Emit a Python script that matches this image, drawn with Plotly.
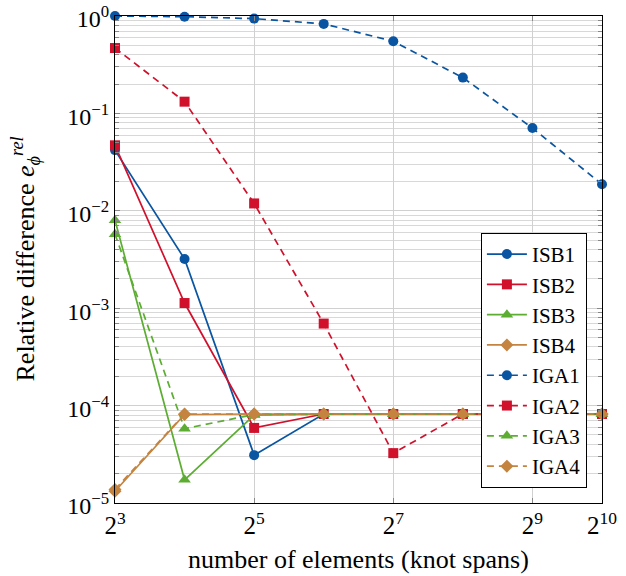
import math
import plotly.graph_objects as go

# ---- data ----
elements = [8, 16, 32, 64, 128, 256, 512, 1024]
isb1 = [4.2e-2, 3.2e-3, 3.1e-5, 8.2e-5, 8.2e-5, 8.2e-5, 8.2e-5, 8.2e-5]
isb2 = [4.7e-2, 1.13e-3, 5.9e-5, 8.2e-5, 8.2e-5, 8.2e-5, 8.2e-5, 8.2e-5]
isb3 = [8.0e-3, 1.73e-5, 8.0e-5, 8.2e-5, 8.2e-5, 8.2e-5, 8.2e-5, 8.2e-5]
isb4 = [1.32e-5, 8.1e-5, 8.2e-5, 8.2e-5, 8.2e-5, 8.2e-5, 8.2e-5, 8.2e-5]
iga1 = [1.0, 0.984, 0.94, 0.83, 0.55, 0.233, 0.0707, 0.0187]
iga2 = [0.469, 0.132, 0.0119, 6.95e-4, 3.25e-5, 8.2e-5, 8.2e-5, 8.2e-5]
iga3 = [5.75e-3, 5.8e-5, 8.1e-5, 8.2e-5, 8.2e-5, 8.2e-5, 8.2e-5, 8.2e-5]
iga4 = [1.38e-5, 8.2e-5, 8.2e-5, 8.2e-5, 8.2e-5, 8.2e-5, 8.2e-5, 8.2e-5]

series_names = ["ISB1", "ISB2", "ISB3", "ISB4", "IGA1", "IGA2", "IGA3", "IGA4"]
series_values = [isb1, isb2, isb3, isb4, iga1, iga2, iga3, iga4]

x_tickvals = [8, 32, 128, 512, 1024]
x_ticktext = ["2<sup>3</sup>", "2<sup>5</sup>", "2<sup>7</sup>", "2<sup>9</sup>", "2<sup>10</sup>"]
y_tickvals = [1e-5, 1e-4, 1e-3, 1e-2, 1e-1, 1e0]
y_ticktext = ["10<sup>−5</sup>", "10<sup>−4</sup>", "10<sup>−3</sup>", "10<sup>−2</sup>",
              "10<sup>−1</sup>", "10<sup>0</sup>"]
x_title = "number of elements (knot spans)"
y_title = "Relative difference <i>e</i><sub><i>ϕ</i></sub><sup><i>rel</i></sup>"

# ---- styles ----
colors = ["#0A55A2", "#D1102C", "#5CAD32", "#C4843F"] * 2
symbols = ["circle", "square", "triangle-up", "diamond"] * 2
sizes = [10, 10, 11, 10] * 2
dashes = ["solid"] * 4 + ["7px,5px"] * 4

FONT = "Liberation Serif, Times New Roman, serif"
ML, MR, MT, MB = 115, 24, 16, 73
W, H = 626, 576
PW, PH = W - ML - MR, H - MT - MB

fig = go.Figure()
for name, vals, c, s, sz, d in zip(series_names, series_values, colors, symbols, sizes, dashes):
    fig.add_trace(go.Scatter(
        x=elements, y=vals, name=name, mode="lines+markers",
        line=dict(color=c, width=1.7, dash=d),
        marker=dict(symbol=s, size=sz, color=c, line=dict(width=0)),
        cliponaxis=False,
    ))

minor_vals = [m * 10 ** e for e in range(-5, 0) for m in range(2, 10)]
eps = 1e-6
xr = [math.log10(elements[0]) - eps, math.log10(elements[-1]) + eps]

fig.update_layout(
    width=W, height=H,
    margin=dict(l=ML, r=MR, t=MT, b=MB),
    paper_bgcolor="white", plot_bgcolor="white",
    font=dict(family=FONT, size=24, color="black"),
    showlegend=True,
    legend=dict(
        x=0.969, y=0.031, xanchor="right", yanchor="bottom",
        bordercolor="black", borderwidth=1, bgcolor="white",
        font=dict(family=FONT, size=21),
        itemwidth=40, tracegroupgap=0,
    ),
    xaxis=dict(
        type="log", range=xr, automargin=False,
        tickmode="array", tickvals=x_tickvals, ticktext=x_ticktext,
        ticklabeloverflow="allow",
        showgrid=True, gridcolor="#d0d0d0", gridwidth=1,
        showline=True, linecolor="black", linewidth=1.2, mirror="ticks",
        ticks="inside", ticklen=5, tickcolor="#888888",
        tickfont=dict(family=FONT, size=25),
        zeroline=False,
    ),
    yaxis=dict(
        type="log", range=[-5, 0], automargin=False,
        tickmode="array", tickvals=y_tickvals, ticktext=y_ticktext,
        ticklabeloverflow="allow", ticklabelshift=3,
        showgrid=True, gridcolor="#d0d0d0", gridwidth=1,
        showline=True, linecolor="black", linewidth=1.2, mirror="ticks",
        ticks="inside", ticklen=5, tickcolor="#888888",
        tickfont=dict(family=FONT, size=24),
        zeroline=False,
        minor=dict(tickmode="array", tickvals=minor_vals, showgrid=True,
                   gridcolor="#d8d8d8", gridwidth=1, ticks="inside", ticklen=4,
                   tickcolor="#888888"),
    ),
)

fig.add_annotation(
    text=y_title, textangle=-90, showarrow=False,
    xref="paper", yref="paper", x=-(ML - 25) / PW, y=0.5,
    xanchor="center", yanchor="middle",
    font=dict(family=FONT, size=26),
)
fig.add_annotation(
    text=x_title, showarrow=False,
    xref="paper", yref="paper", x=0.5, y=-(559 - (H - MB)) / PH,
    xanchor="center", yanchor="middle",
    font=dict(family=FONT, size=26),
)

fig.write_html("out.html")
